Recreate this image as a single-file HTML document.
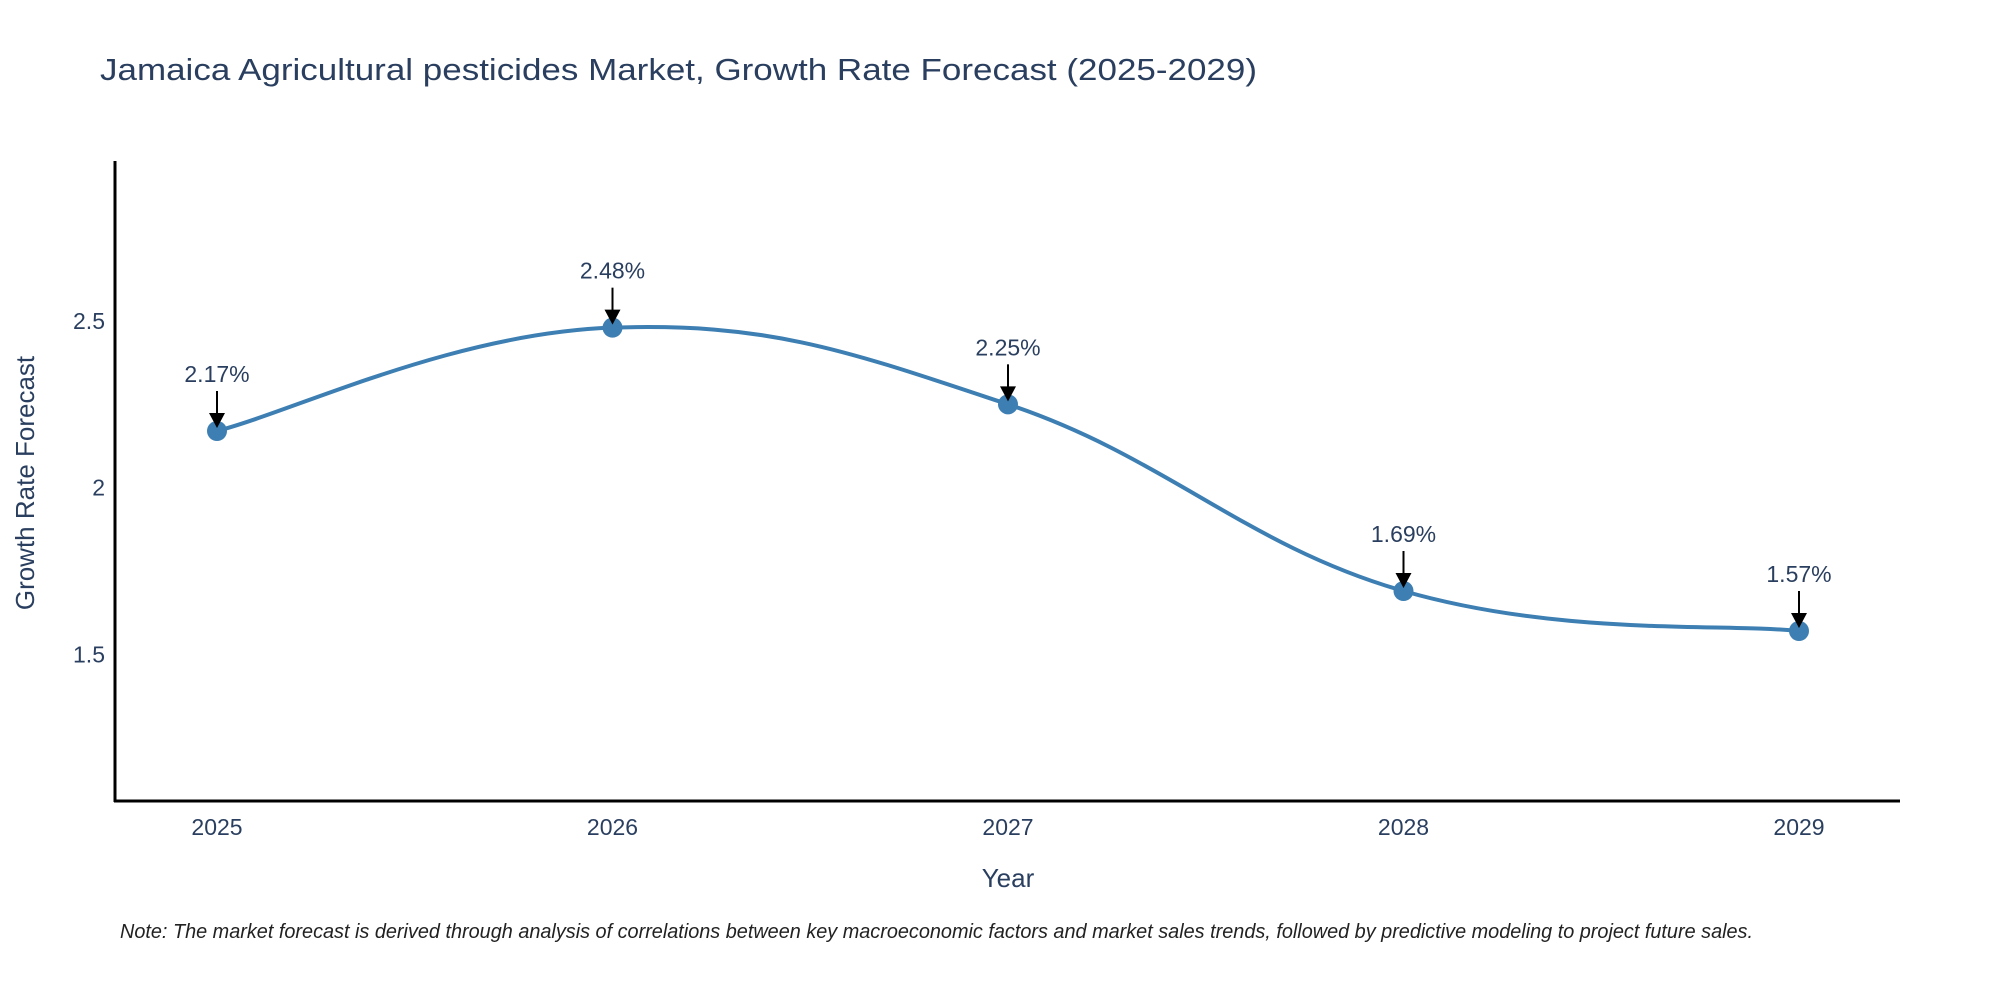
<!DOCTYPE html>
<html><head><meta charset="utf-8"><style>body{margin:0;background:#fff}svg{display:block}text{font-family:"Liberation Sans",sans-serif}</style></head>
<body>
<svg id="chart" width="2000" height="1000" viewBox="0 0 2000 1000">
<text x="100" y="80" font-size="31" fill="#2a3f5f" textLength="1157" lengthAdjust="spacingAndGlyphs">Jamaica Agricultural pesticides Market, Growth Rate Forecast (2025-2029)</text>
<g id="axes"></g>
<g id="series"></g>
<text transform="translate(34,483) rotate(-90)" text-anchor="middle" font-size="26" fill="#2a3f5f">Growth Rate Forecast</text>
<text x="1008" y="887" text-anchor="middle" font-size="26" fill="#2a3f5f">Year</text>
<text x="120" y="938" font-size="20" font-style="italic" fill="#222" textLength="1633" lengthAdjust="spacingAndGlyphs">Note: The market forecast is derived through analysis of correlations between key macroeconomic factors and market sales trends, followed by predictive modeling to project future sales.</text>
</svg>
<script>
const years = [2025, 2026, 2027, 2028, 2029];
const growth = [2.17, 2.48, 2.25, 1.69, 1.57];
const yTicks = [1.5, 2, 2.5];
const yTickLabels = ["1.5", "2", "2.5"];
const NS = "http://www.w3.org/2000/svg";
const L = 115, R = 1900, T = 161, B = 801;
const yMin = 1.06, yMax = 2.98;
function xs(i){ return 217 + i * (1799 - 217) / (years.length - 1); }
function ys(v){ return B - (v - yMin) / (yMax - yMin) * (B - T); }
function mk(tag, attrs, parent){ const e = document.createElementNS(NS, tag); for (const k in attrs) e.setAttribute(k, attrs[k]); parent.appendChild(e); return e; }
const ax = document.getElementById('axes'), se = document.getElementById('series');
let e = mk('line', {x1:L, y1:T, x2:L, y2:B+1, stroke:'#000', 'stroke-width':3}, ax);


e = mk('line', {x1:L-1, y1:B, x2:R, y2:B, stroke:'#000', 'stroke-width':3}, ax);


yTicks.forEach((v, i) => {
  const t = mk('text', {x:L-10, y:ys(v)+8, 'text-anchor':'end', 'font-size':23, fill:'#2a3f5f'}, ax);
  t.textContent = yTickLabels[i];
  
  
});
years.forEach((yr, i) => {
  const t = mk('text', {x:xs(i), y:B+34, 'text-anchor':'middle', 'font-size':23, fill:'#2a3f5f'}, ax);
  t.textContent = yr;
  
  
});
const pts = growth.map((v, i) => [xs(i), ys(v)]);
let d = 'M' + pts[0][0] + ',' + pts[0][1];
const k = 0.4;
for (let i = 0; i < pts.length - 1; i++) {
  const p0 = pts[Math.max(0, i-1)], p1 = pts[i], p2 = pts[i+1], p3 = pts[Math.min(pts.length-1, i+2)];
  const c1 = [p1[0] + (p2[0]-p0[0])*k/2, p1[1] + (p2[1]-p0[1])*k/2];
  const c2 = [p2[0] - (p3[0]-p1[0])*k/2, p2[1] - (p3[1]-p1[1])*k/2];
  d += ' C' + c1 + ' ' + c2 + ' ' + p2;
}
e = mk('path', {d:d, fill:'none', stroke:'#3d7fb3', 'stroke-width':4}, se);


pts.forEach((p, i) => {
  const c = mk('circle', {cx:p[0], cy:p[1], r:10, fill:'#3d7fb3'}, se);
  
  
  const a = mk('line', {x1:p[0], y1:p[1]-40, x2:p[0], y2:p[1]-14, stroke:'#000', 'stroke-width':2}, se);
  
  
  const h = mk('polygon', {points:(p[0]-8)+','+(p[1]-18)+' '+(p[0]+8)+','+(p[1]-18)+' '+p[0]+','+(p[1]-3), fill:'#000'}, se);
  
  
  const t = mk('text', {x:p[0], y:p[1]-49, 'text-anchor':'middle', 'font-size':23, fill:'#2a3f5f'}, se);
  t.textContent = growth[i].toFixed(2) + '%';
  
  
});
</script>
</body></html>
